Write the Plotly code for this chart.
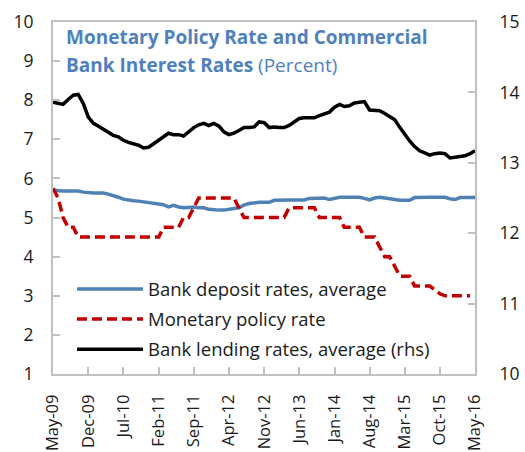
import pandas as pd
import plotly.graph_objects as go

months = pd.date_range("2009-05-01", periods=85, freq="MS")

deposit_rate = [
    5.70, 5.68, 5.68, 5.68, 5.68, 5.68, 5.65, 5.63, 5.63, 5.63,
    5.63, 5.60, 5.57, 5.52, 5.47, 5.44, 5.43, 5.42, 5.40, 5.38,
    5.35, 5.34, 5.33, 5.27, 5.31, 5.27, 5.25, 5.26, 5.27, 5.25,
    5.25, 5.21, 5.19, 5.19, 5.19, 5.20, 5.23, 5.25, 5.32, 5.36,
    5.38, 5.39, 5.39, 5.39, 5.44, 5.45, 5.45, 5.45, 5.45, 5.45,
    5.45, 5.49, 5.50, 5.50, 5.50, 5.46, 5.50, 5.52, 5.52, 5.52,
    5.52, 5.52, 5.49, 5.45, 5.50, 5.52, 5.50, 5.48, 5.44, 5.44,
    5.44, 5.44, 5.51, 5.52, 5.52, 5.52, 5.52, 5.52, 5.52, 5.48,
    5.46, 5.51, 5.51, 5.51, 5.51,
]

policy_rate = [
    5.75, 5.50, 5.00, 4.75, 4.75, 4.50, 4.50, 4.50, 4.50, 4.50,
    4.50, 4.50, 4.50, 4.50, 4.50, 4.50, 4.50, 4.50, 4.50, 4.50,
    4.50, 4.50, 4.75, 4.75, 4.75, 4.75, 5.00, 5.00, 5.25, 5.50,
    5.50, 5.50, 5.50, 5.50, 5.50, 5.50, 5.50, 5.25, 5.00, 5.00,
    5.00, 5.00, 5.00, 5.00, 5.00, 5.00, 5.00, 5.25, 5.25, 5.25,
    5.25, 5.25, 5.25, 5.00, 5.00, 5.00, 5.00, 5.00, 4.75, 4.75,
    4.75, 4.75, 4.50, 4.50, 4.50, 4.25, 4.00, 4.00, 3.75, 3.50,
    3.50, 3.50, 3.25, 3.25, 3.25, 3.25, 3.15, 3.05, 3.00, 3.00,
    3.00, 3.00, 3.00, 3.00, None,
]

lending_rate = [
    13.86, 13.85, 13.83, 13.90, 13.96, 13.97, 13.84, 13.65, 13.56, 13.52,
    13.48, 13.43, 13.39, 13.37, 13.32, 13.29, 13.27, 13.25, 13.21, 13.22,
    13.27, 13.32, 13.38, 13.42, 13.40, 13.40, 13.38, 13.44, 13.50, 13.54,
    13.56, 13.53, 13.56, 13.52, 13.44, 13.40, 13.42, 13.46, 13.50, 13.50,
    13.51, 13.58, 13.57, 13.50, 13.51, 13.50, 13.50, 13.53, 13.58, 13.63,
    13.64, 13.64, 13.64, 13.67, 13.69, 13.72, 13.79, 13.83, 13.80, 13.81,
    13.85, 13.86, 13.87, 13.75, 13.74, 13.74, 13.70, 13.65, 13.61, 13.50,
    13.40, 13.31, 13.23, 13.17, 13.14, 13.11, 13.13, 13.14, 13.13, 13.07,
    13.08, 13.09, 13.10, 13.13, 13.17,
]

tick_idx = list(range(0, 85, 7))
tick_vals = [months[i] for i in tick_idx]
tick_text = [months[i].strftime("%b-%y") for i in tick_idx]

title_line1 = "<b>Monetary Policy Rate and Commercial</b>"
title_line2 = "<b>Bank Interest Rates</b> (Percent)"

FONT = "Open Sans"
AXIS_GRAY = "#BFBFBF"
BLUE = "#4F81B5"
RED = "#C00000"
TXT = "#1a1a1a"
TITLE_BLUE = "#4F81BD"

fig = go.Figure()
fig.add_trace(go.Scatter(
    x=months, y=deposit_rate, name="Bank deposit rates, average",
    mode="lines", line=dict(color=BLUE, width=3.5), legendgroup="a"))
fig.add_trace(go.Scatter(
    x=months, y=policy_rate, name="Monetary policy rate",
    mode="lines", line=dict(color=RED, width=3.5, dash="10px,5px"), legendgroup="b"))
fig.add_trace(go.Scatter(
    x=months, y=lending_rate, name="Bank lending rates, average (rhs)",
    mode="lines", line=dict(color="black", width=3.5), yaxis="y2", legendgroup="c"))

fig.update_layout(
    width=525, height=452,
    margin=dict(l=53, r=50, t=22, b=78, pad=0),
    paper_bgcolor="white", plot_bgcolor="white",
    font=dict(family=FONT, size=18, color=TXT),
    xaxis=dict(
        range=[months[0], months[-1]], automargin=False,
        tickvals=tick_vals, ticktext=tick_text, tickangle=-90,
        ticks="inside", ticklen=7, tickcolor=AXIS_GRAY, tickwidth=1.5,
        showline=True, linecolor=AXIS_GRAY, linewidth=2, mirror=True,
        showgrid=False, zeroline=False,
        tickfont=dict(family=FONT, size=16.5, color=TXT),
        ticklabelstandoff=12,
    ),
    yaxis=dict(
        range=[1, 10], dtick=1, automargin=False,
        ticks="inside", ticklen=7, tickcolor=AXIS_GRAY, tickwidth=1.5,
        showline=True, linecolor=AXIS_GRAY, linewidth=2,
        showgrid=False, zeroline=False,
        tickfont=dict(family=FONT, size=17.5, color=TXT),
        ticklabelstandoff=14,
    ),
    yaxis2=dict(
        range=[10, 15], dtick=1, overlaying="y", side="right", automargin=False,
        ticks="inside", ticklen=7, tickcolor=AXIS_GRAY, tickwidth=1.5,
        showline=True, linecolor=AXIS_GRAY, linewidth=2,
        showgrid=False, zeroline=False,
        tickfont=dict(family=FONT, size=17.5, color=TXT),
        ticklabelstandoff=19,
    ),
    showlegend=True,
    legend=dict(
        x=0.045, y=0.294, xanchor="left", yanchor="top",
        bgcolor="rgba(0,0,0,0)", borderwidth=0,
        font=dict(family=FONT, size=18.5, color=TXT),
        itemwidth=66, tracegroupgap=3, traceorder="grouped",
    ),
    annotations=[
        dict(xref="paper", yref="paper", x=0.025, y=0.956,
             xanchor="left", yanchor="middle", align="left", showarrow=False,
             text=title_line1, font=dict(family=FONT, size=19, color=TITLE_BLUE)),
        dict(xref="paper", yref="paper", x=0.025, y=0.879,
             xanchor="left", yanchor="middle", align="left", showarrow=False,
             text=title_line2, font=dict(family=FONT, size=19, color=TITLE_BLUE)),
    ],
)

fig.write_html("out.html")
